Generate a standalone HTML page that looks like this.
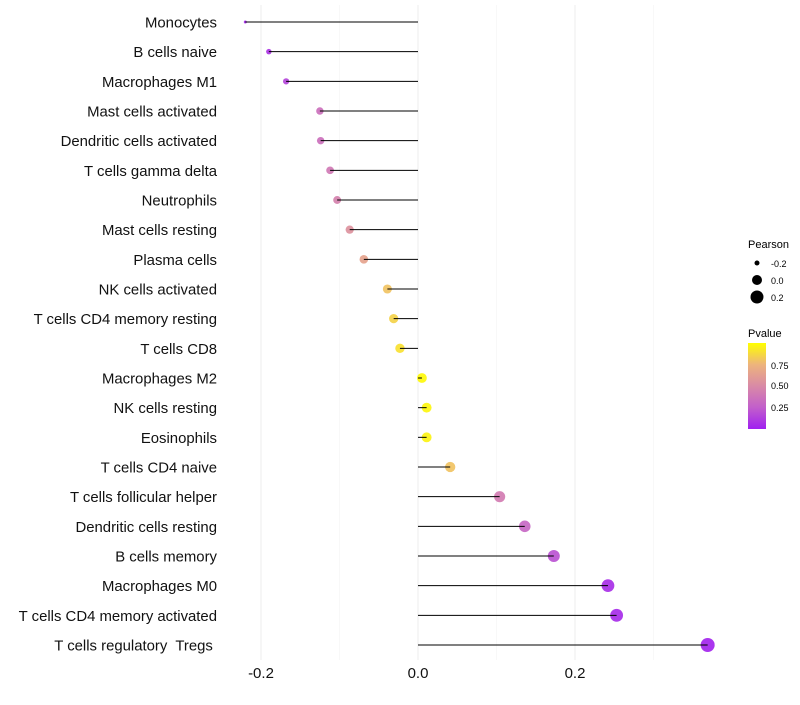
<!DOCTYPE html>
<html><head><meta charset="utf-8"><style>
body{margin:0;background:#fff;font-family:"Liberation Sans",sans-serif}
text{white-space:pre}
</style></head><body>
<svg id="c" width="800" height="700" xmlns="http://www.w3.org/2000/svg">
<defs><linearGradient id="pg" x1="0" y1="1" x2="0" y2="0">
<stop offset="0" stop-color="#A020F0"/><stop offset="0.25" stop-color="#C25FCB"/><stop offset="0.5" stop-color="#D98AA6"/><stop offset="0.75" stop-color="#EDB47C"/><stop offset="1" stop-color="#FFFF00"/>
</linearGradient></defs>
<g id="grid"></g><g id="dots"></g><g id="marks"></g><g id="labels"></g>
<g font-size="11">
<text x="748" y="248" fill="#000">Pearson</text>
<circle cx="757" cy="263" r="2.5" fill="#000"/><text x="771" y="267" font-size="9">-0.2</text>
<circle cx="757" cy="280" r="5" fill="#000"/><text x="771" y="284" font-size="9">0.0</text>
<circle cx="757" cy="297" r="6.5" fill="#000"/><text x="771" y="301" font-size="9">0.2</text>
</g>
<g>
<text x="748" y="337" font-size="11">Pvalue</text>
<rect x="748" y="343" width="18" height="86" fill="url(#pg)"/>
<text x="771" y="369" font-size="9">0.75</text>
<text x="771" y="389" font-size="9">0.50</text>
<text x="771" y="411" font-size="9">0.25</text>
</g>
</svg>
<script>
const cells=["Monocytes","B cells naive","Macrophages M1","Mast cells activated","Dendritic cells activated","T cells gamma delta","Neutrophils","Mast cells resting","Plasma cells","NK cells activated","T cells CD4 memory resting","T cells CD8","Macrophages M2","NK cells resting","Eosinophils","T cells CD4 naive","T cells follicular helper","Dendritic cells resting","B cells memory","Macrophages M0","T cells CD4 memory activated","T cells regulatory  Tregs "];
const pearson=[-0.220,-0.190,-0.168,-0.125,-0.124,-0.112,-0.103,-0.087,-0.069,-0.039,-0.031,-0.023,0.005,0.011,0.011,0.041,0.104,0.136,0.173,0.242,0.253,0.369];
const pvalue=[0.03,0.08,0.15,0.35,0.35,0.4,0.45,0.55,0.65,0.8,0.85,0.9,0.98,0.97,0.96,0.8,0.42,0.3,0.2,0.06,0.05,0.02];
const ticks=[-0.2,0.0,0.2];
const minor=[-0.1,0.1,0.3];
const NS="http://www.w3.org/2000/svg";
const xs=v=>418+v*785;
const ys=i=>22+i*(623/21);
const rs=v=>1.5+5.5*Math.sqrt(Math.max(0,(v+0.22)/0.59));
const stops=[[0,[160,32,240]],[0.25,[194,95,203]],[0.5,[217,138,166]],[0.75,[237,180,124]],[1,[255,255,0]]];
function col(p){for(let k=1;k<stops.length;k++){if(p<=stops[k][0]){const a=stops[k-1],b=stops[k],t=(p-a[0])/(b[0]-a[0]);return "rgb("+a[1].map((c,j)=>Math.round(c+(b[1][j]-c)*t)).join(",")+")";}}return "rgb(255,255,0)";}
function mk(t,at,parent){const e=document.createElementNS(NS,t);for(const k in at)e.setAttribute(k,at[k]);document.getElementById(parent).appendChild(e);return e;}
minor.forEach(v=>{const l=mk("line",{x1:xs(v),x2:xs(v),y1:5,y2:660,stroke:"#f4f4f4","stroke-width":0.6},"grid");

});
ticks.forEach(v=>{const l=mk("line",{x1:xs(v),x2:xs(v),y1:5,y2:660,stroke:"#ededed","stroke-width":1},"grid");


const t=mk("text",{x:xs(v),y:678,"text-anchor":"middle","font-size":15,fill:"#111"},"labels");t.textContent=v.toFixed(1);

});
cells.forEach((c,i)=>{const y=ys(i);
const d=mk("circle",{cx:xs(pearson[i]),cy:y,r:rs(pearson[i]),fill:col(pvalue[i]),"fill-opacity":0.92},"dots");


const l=mk("line",{x1:xs(0),x2:xs(pearson[i]),y1:y,y2:y,stroke:"#000","stroke-width":1},"marks");


const t=mk("text",{x:217,y:y+5.5,"text-anchor":"end","font-size":14.9,fill:"#111"},"labels");t.textContent=c;

});
</script>
</body></html>
